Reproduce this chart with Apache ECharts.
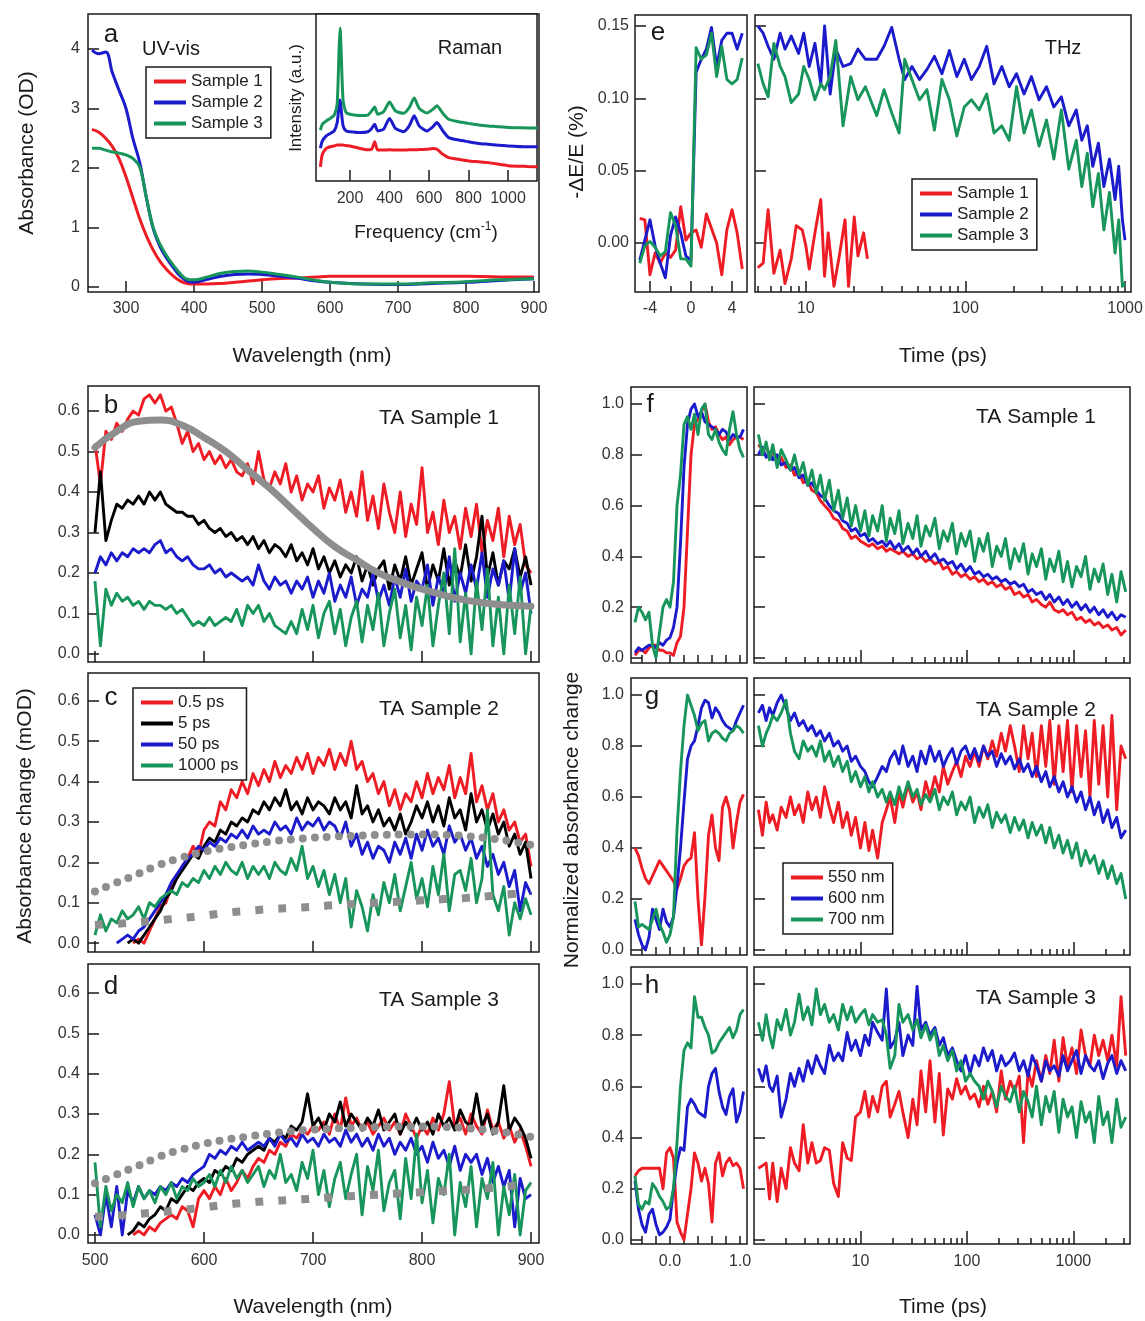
<!DOCTYPE html>
<html>
<head>
<meta charset="utf-8">
<script src="https://cdn.jsdelivr.net/npm/echarts@6/dist/echarts.min.js"></script>
<style>
  html, body { margin: 0; padding: 0; background: #fff; }
  #chart { width: 1145px; height: 1321px; }
</style>
</head>
<body>
<div id="chart"></div>
<script>
// ---- panel a: UV-vis absorbance ----
const uvX = [250, 260, 270, 280, 290, 300, 310, 320, 330, 340, 350, 360, 370, 380, 390, 400, 420, 440, 460, 480, 500, 520, 550, 580, 600, 650, 700, 750, 800, 850, 900];
const uvS1 = [2.65, 2.6, 2.5, 2.36, 2.15, 1.85, 1.5, 1.15, 0.86, 0.62, 0.43, 0.29, 0.18, 0.1, 0.06, 0.05, 0.05, 0.06, 0.08, 0.1, 0.12, 0.14, 0.15, 0.17, 0.18, 0.18, 0.18, 0.18, 0.18, 0.17, 0.17];
const uvS2 = [3.98, 3.92, 3.95, 3.6, 3.3, 3.0, 2.5, 2.1, 1.5, 0.98, 0.68, 0.48, 0.32, 0.18, 0.1, 0.08, 0.13, 0.18, 0.21, 0.22, 0.21, 0.19, 0.15, 0.1, 0.08, 0.05, 0.04, 0.06, 0.08, 0.11, 0.14];
const uvS3 = [2.33, 2.33, 2.3, 2.27, 2.25, 2.22, 2.16, 2.02, 1.5, 1.0, 0.72, 0.52, 0.36, 0.22, 0.13, 0.12, 0.17, 0.23, 0.26, 0.27, 0.25, 0.22, 0.17, 0.11, 0.08, 0.05, 0.05, 0.07, 0.09, 0.12, 0.14];
const uvTicks = [300, 400, 500, 600, 700, 800, 900];
const uvYTicks = [0, 1, 2, 3, 4];

// ---- inset: Raman ----
const ramanX = [50, 60, 80, 100, 120, 135, 145, 150, 155, 165, 180, 200, 250, 290, 310, 325, 340, 370, 400, 430, 470, 500, 525, 550, 590, 620, 640, 670, 700, 750, 800, 850, 900, 1000, 1100, 1150];
const ramanS1 = [0.85, 1.6, 1.95, 2.05, 2.1, 2.15, 2.15, 2.15, 2.15, 2.15, 2.12, 2.1, 1.95, 1.87, 1.9, 2.35, 1.85, 1.85, 1.87, 1.85, 1.85, 1.87, 1.87, 1.88, 1.9, 1.95, 1.9, 1.6, 1.4, 1.3, 1.2, 1.15, 1.1, 0.92, 0.87, 0.85];
const ramanS2 = [1.97, 2.4, 2.7, 2.85, 3.0, 3.5, 4.6, 4.85, 4.3, 3.3, 3.0, 2.95, 2.9, 2.95, 3.15, 3.4, 3.0, 3.1, 3.75, 3.15, 2.95, 3.3, 3.9, 3.3, 3.0, 3.25, 3.5, 3.0, 2.6, 2.45, 2.35, 2.25, 2.2, 2.1, 2.05, 2.05];
const ramanS3 = [3.05, 3.4, 3.6, 3.75, 3.95, 4.6, 8.0, 9.16, 7.8, 4.8, 4.1, 4.0, 3.92, 3.95, 4.2, 4.43, 4.0, 4.15, 4.73, 4.2, 4.05, 4.4, 4.97, 4.35, 4.07, 4.3, 4.5, 4.05, 3.7, 3.55, 3.45, 3.35, 3.3, 3.2, 3.18, 3.17];
const ramanTicks = [200, 400, 600, 800, 1000];

// ---- panel e: THz ----
const thzTLin = [-5, -4.5, -4, -3.5, -3, -2.5, -2, -1.5, -1, -0.5, 0, 0.5, 1, 1.5, 2, 2.5, 3, 3.5, 4, 4.5, 5];
const thzLinS1 = [0.017, 0.016, -0.022, -0.007, -0.014, -0.007, -0.01, -0.005, 0.025, 0.002, 0.007, 0.009, -0.003, 0.02, 0.01, 0.0, -0.022, 0.009, 0.023, 0.007, -0.018];
const thzLinS2 = [-0.012, 0.002, 0.016, -0.002, -0.014, -0.024, 0.005, 0.018, 0.007, -0.009, -0.012, 0.118, 0.127, 0.134, 0.149, 0.122, 0.14, 0.145, 0.145, 0.134, 0.145];
const thzLinS3 = [-0.014, -0.002, 0.001, -0.003, -0.009, -0.006, 0.021, 0.012, -0.011, -0.011, -0.016, 0.135, 0.127, 0.13, 0.145, 0.115, 0.136, 0.113, 0.11, 0.113, 0.128];
const thzT = [5.0, 5.4, 5.8, 6.3, 6.9, 7.4, 8.1, 9.0, 9.7, 10.5,
  11.4, 12.4, 13.1, 14.2, 15.4, 17.1, 19.1, 21.2, 23.6, 27.8,
  30.9, 34.5, 38.4, 41.6, 46.2, 51.5, 57.4, 63.9, 71.2, 79.3,
  88.3, 98.3, 109, 122, 136, 151, 169, 188, 209, 233,
  259, 289, 322, 358, 399, 444, 495, 536, 580, 628,
  681, 737, 799, 866, 913, 963, 1000];
const thzS2 = [0.15, 0.145, 0.136, 0.127, 0.145, 0.134, 0.143, 0.131, 0.145, 0.122,
  0.138, 0.11, 0.15, 0.103, 0.134, 0.122, 0.124, 0.134, 0.127, 0.127,
  0.136, 0.149, 0.127, 0.113, 0.122, 0.113, 0.12, 0.129, 0.117, 0.133,
  0.115, 0.127, 0.113, 0.122, 0.136, 0.11, 0.122, 0.108, 0.117, 0.103,
  0.115, 0.099, 0.108, 0.094, 0.101, 0.081, 0.092, 0.071, 0.081, 0.053,
  0.069, 0.039, 0.058, 0.03, 0.053, 0.016, 0.002];
const thzS3 = [0.124, 0.11, 0.101, 0.138, 0.122, 0.115, 0.097, 0.103, 0.122, 0.113,
  0.099, 0.11, 0.106, 0.115, 0.14, 0.081, 0.115, 0.099, 0.108, 0.088,
  0.106, 0.09, 0.076, 0.127, 0.113, 0.099, 0.106, 0.078, 0.113, 0.099,
  0.074, 0.094, 0.099, 0.092, 0.103, 0.076, 0.081, 0.071, 0.108, 0.076,
  0.092, 0.067, 0.085, 0.058, 0.092, 0.051, 0.071, 0.039, 0.062, 0.025,
  0.048, 0.009, 0.035, -0.007, 0.016, -0.03, -0.028];
const thzTS1 = [5.0, 5.4, 5.8, 6.3, 6.9, 7.4, 8.1, 8.7, 9.5, 10.0, 10.5, 11.4, 12.4, 13.1, 13.8, 15.0, 16.2, 17.6, 18.5, 20.1, 21.2, 23.0, 24.3];
const thzS1 = [-0.017, -0.014, 0.023, -0.021, -0.005, -0.028, -0.011, 0.012, 0.009, -0.002, -0.018, 0.007, 0.03, -0.023, 0.007, -0.03, -0.009, 0.016, -0.03, 0.018, -0.009, 0.007, -0.011];
const thzYTicks = [0, 0.05, 0.1, 0.15];
const thzLinTicks = [-4, 0, 4];
const thzLinMinor = [-2, 2];

// ---- panels b, c, d: TA spectra ----
const wl = [500, 505, 510, 515, 520, 525, 530, 535, 540, 545,
  550, 555, 560, 565, 570, 575, 580, 585, 590, 595,
  600, 605, 610, 615, 620, 625, 630, 635, 640, 645,
  650, 655, 660, 665, 670, 675, 680, 685, 690, 695,
  700, 705, 710, 715, 720, 725, 730, 735, 740, 745,
  750, 755, 760, 765, 770, 775, 780, 785, 790, 795,
  800, 805, 810, 815, 820, 825, 830, 835, 840, 845,
  850, 855, 860, 865, 870, 875, 880, 885, 890, 895,
  900];
const bT05 = [0.52, 0.42, 0.55, 0.53, 0.57, 0.55, 0.58, 0.60, 0.59, 0.63,
  0.64, 0.62, 0.64, 0.60, 0.61, 0.57, 0.52, 0.55, 0.50, 0.52,
  0.48, 0.50, 0.47, 0.49, 0.46, 0.48, 0.45, 0.44, 0.47, 0.42,
  0.50, 0.43, 0.41, 0.45, 0.42, 0.47, 0.40, 0.44, 0.38, 0.42,
  0.40, 0.44, 0.36, 0.41, 0.38, 0.43, 0.35, 0.40, 0.34, 0.45,
  0.33, 0.39, 0.31, 0.42, 0.35, 0.30, 0.40, 0.29, 0.37, 0.32,
  0.46, 0.30, 0.35, 0.27, 0.38, 0.30, 0.34, 0.26, 0.36, 0.29,
  0.37, 0.25, 0.33, 0.28, 0.36, 0.24, 0.34, 0.27, 0.32, 0.22,
  0.20];
const bT5 = [0.30, 0.45, 0.28, 0.33, 0.37, 0.36, 0.38, 0.37, 0.39, 0.37,
  0.40, 0.38, 0.40, 0.37, 0.36, 0.35, 0.35, 0.34, 0.34, 0.32,
  0.33, 0.31, 0.30, 0.31, 0.29, 0.30, 0.28, 0.29, 0.27, 0.29,
  0.26, 0.28, 0.25, 0.27, 0.26, 0.24, 0.27, 0.23, 0.25, 0.22,
  0.26, 0.21, 0.24, 0.20, 0.23, 0.19, 0.22, 0.20, 0.24, 0.18,
  0.22, 0.17, 0.21, 0.23, 0.16, 0.22, 0.18, 0.24, 0.17, 0.21,
  0.25, 0.16, 0.22, 0.18, 0.26, 0.17, 0.23, 0.19, 0.27, 0.18,
  0.24, 0.34, 0.19, 0.25, 0.17, 0.23, 0.21, 0.26, 0.19, 0.24,
  0.17];
const bT50 = [0.20, 0.24, 0.22, 0.25, 0.23, 0.25, 0.24, 0.26, 0.25, 0.26,
  0.25, 0.27, 0.28, 0.25, 0.26, 0.24, 0.23, 0.24, 0.22, 0.21,
  0.21, 0.22, 0.20, 0.21, 0.19, 0.20, 0.19, 0.18, 0.19, 0.17,
  0.22, 0.18, 0.16, 0.19, 0.17, 0.18, 0.15, 0.18, 0.16, 0.19,
  0.14, 0.18, 0.15, 0.20, 0.13, 0.17, 0.14, 0.19, 0.12, 0.16,
  0.14, 0.20, 0.13, 0.17, 0.12, 0.19, 0.14, 0.21, 0.13, 0.18,
  0.16, 0.22, 0.12, 0.19, 0.15, 0.24, 0.13, 0.20, 0.15, 0.22,
  0.16, 0.25, 0.14, 0.21, 0.17, 0.23, 0.13, 0.26, 0.15, 0.20,
  0.10];
const bT1000 = [0.18, 0.02, 0.16, 0.12, 0.15, 0.13, 0.14, 0.12, 0.13, 0.11,
  0.13, 0.12, 0.12, 0.11, 0.12, 0.10, 0.11, 0.09, 0.07, 0.08,
  0.07, 0.09, 0.07, 0.08, 0.09, 0.08, 0.11, 0.07, 0.12, 0.10,
  0.12, 0.08, 0.10, 0.07, 0.06, 0.05, 0.08, 0.05, 0.11, 0.06,
  0.12, 0.04, 0.10, 0.13, 0.05, 0.11, 0.02, 0.09, 0.13, 0.03,
  0.12, 0.06, 0.15, 0.02, 0.10, 0.16, 0.04, 0.12, 0.01, 0.14,
  0.07, 0.17, 0.02, 0.12, 0.20, 0.05, 0.26, 0.03, 0.15, 0.00,
  0.18, 0.06, 0.21, 0.02, 0.14, 0.00, 0.17, 0.05, 0.19, 0.00,
  0.12];
const cT05 = [null, null, null, null, null, null, null, 0.00, 0.01, 0.00,
  0.03, 0.06, 0.09, 0.10, 0.14, 0.16, 0.19, 0.21, 0.24, 0.22,
  0.28, 0.30, 0.29, 0.35, 0.33, 0.38, 0.36, 0.40, 0.37, 0.42,
  0.39, 0.43, 0.40, 0.45, 0.41, 0.44, 0.42, 0.46, 0.43, 0.47,
  0.42, 0.46, 0.44, 0.48, 0.43, 0.47, 0.44, 0.50, 0.43, 0.45,
  0.40, 0.42, 0.37, 0.40, 0.34, 0.38, 0.33, 0.37, 0.35, 0.40,
  0.36, 0.42, 0.37, 0.41, 0.38, 0.44, 0.36, 0.41, 0.37, 0.47,
  0.35, 0.39, 0.33, 0.37, 0.30, 0.33, 0.28, 0.30, 0.25, 0.27,
  0.19];
const cT5 = [null, null, null, null, null, null, 0.00, 0.01, 0.00, 0.02,
  0.04, 0.06, 0.08, 0.11, 0.13, 0.16, 0.18, 0.20, 0.22, 0.21,
  0.24, 0.26, 0.25, 0.28, 0.27, 0.30, 0.29, 0.31, 0.30, 0.33,
  0.32, 0.35, 0.33, 0.36, 0.34, 0.38, 0.33, 0.35, 0.32, 0.36,
  0.33, 0.35, 0.34, 0.32, 0.36, 0.33, 0.35, 0.31, 0.39, 0.32,
  0.34, 0.30, 0.33, 0.29, 0.31, 0.28, 0.32, 0.27, 0.30, 0.34,
  0.31, 0.35, 0.30, 0.34, 0.29, 0.36, 0.31, 0.33, 0.28, 0.37,
  0.30, 0.33, 0.28, 0.32, 0.27, 0.30, 0.24, 0.27, 0.22, 0.25,
  0.16];
const cT50 = [null, null, null, null, 0.00, 0.01, 0.02, 0.01, 0.03, 0.04,
  0.06, 0.08, 0.10, 0.12, 0.15, 0.17, 0.19, 0.21, 0.22, 0.24,
  0.23, 0.25, 0.24, 0.26, 0.25, 0.27, 0.26, 0.28, 0.26, 0.29,
  0.27, 0.28, 0.27, 0.30, 0.28, 0.29, 0.27, 0.31, 0.28, 0.30,
  0.29, 0.31, 0.28, 0.30, 0.29, 0.26, 0.30, 0.24, 0.27, 0.22,
  0.25, 0.21, 0.24, 0.23, 0.20, 0.25, 0.22, 0.26, 0.21, 0.27,
  0.23, 0.28, 0.24, 0.26, 0.22, 0.29, 0.25, 0.27, 0.23, 0.26,
  0.21, 0.24, 0.19, 0.22, 0.17, 0.20, 0.14, 0.18, 0.08, 0.15,
  0.12];
const cT1000 = [0.02, 0.07, 0.03, 0.06, 0.05, 0.08, 0.06, 0.07, 0.09, 0.06,
  0.10, 0.09, 0.11, 0.12, 0.13, 0.12, 0.15, 0.14, 0.16, 0.15,
  0.18, 0.16, 0.19, 0.17, 0.20, 0.18, 0.17, 0.20, 0.16, 0.19,
  0.17, 0.19, 0.16, 0.20, 0.18, 0.17, 0.21, 0.18, 0.24, 0.16,
  0.19, 0.14, 0.18, 0.12, 0.17, 0.10, 0.16, 0.04, 0.13, 0.09,
  0.03, 0.12, 0.07, 0.15, 0.10, 0.17, 0.08, 0.14, 0.20, 0.11,
  0.16, 0.09, 0.19, 0.12, 0.22, 0.08, 0.17, 0.18, 0.13, 0.21,
  0.10, 0.16, 0.33, 0.12, 0.08, 0.14, 0.02, 0.10, 0.06, 0.11,
  0.07];
const dT05 = [null, null, null, null, null, null, null, 0.00, 0.01, 0.00,
  0.02, 0.01, 0.03, 0.04, 0.05, 0.04, 0.07, 0.06, 0.02, 0.09,
  0.11, 0.09, 0.12, 0.10, 0.14, 0.11, 0.13, 0.16, 0.14, 0.17,
  0.19, 0.18, 0.21, 0.20, 0.23, 0.22, 0.25, 0.24, 0.26, 0.25,
  0.27, 0.26, 0.28, 0.25, 0.30, 0.26, 0.34, 0.27, 0.29, 0.26,
  0.28, 0.25, 0.27, 0.29, 0.26, 0.28, 0.25, 0.30, 0.27, 0.24,
  0.27, 0.25, 0.29, 0.26, 0.30, 0.38, 0.27, 0.29, 0.25, 0.30,
  0.27, 0.25, 0.31, 0.26, 0.28, 0.24, 0.27, 0.23, 0.26, 0.22,
  0.17];
const dT5 = [null, null, null, null, null, null, 0.00, 0.01, 0.03, 0.02,
  0.04, 0.05, 0.07, 0.06, 0.09, 0.08, 0.10, 0.12, 0.11, 0.13,
  0.14, 0.13, 0.16, 0.15, 0.17, 0.16, 0.19, 0.18, 0.20, 0.21,
  0.22, 0.21, 0.24, 0.23, 0.25, 0.24, 0.27, 0.26, 0.28, 0.35,
  0.27, 0.29, 0.26, 0.30, 0.28, 0.33, 0.27, 0.30, 0.28, 0.26,
  0.29, 0.27, 0.31, 0.26, 0.28, 0.30, 0.25, 0.28, 0.26, 0.29,
  0.26, 0.28, 0.25, 0.30, 0.27, 0.29, 0.26, 0.31, 0.28, 0.27,
  0.35, 0.27, 0.30, 0.25, 0.28, 0.37, 0.26, 0.29, 0.27, 0.24,
  0.19];
const dT50 = [0.05, 0.00, 0.10, 0.02, 0.12, 0.00, 0.11, 0.08, 0.12, 0.09,
  0.11, 0.10, 0.12, 0.11, 0.13, 0.12, 0.14, 0.13, 0.15, 0.16,
  0.17, 0.20, 0.19, 0.21, 0.20, 0.22, 0.21, 0.23, 0.21, 0.22,
  0.23, 0.22, 0.24, 0.22, 0.25, 0.23, 0.24, 0.22, 0.25, 0.23,
  0.24, 0.22, 0.25, 0.23, 0.24, 0.22, 0.26, 0.23, 0.25, 0.22,
  0.24, 0.21, 0.25, 0.22, 0.24, 0.20, 0.23, 0.21, 0.24, 0.20,
  0.22, 0.18, 0.23, 0.19, 0.21, 0.17, 0.22, 0.16, 0.20, 0.18,
  0.20, 0.15, 0.19, 0.13, 0.17, 0.12, 0.16, 0.02, 0.14, 0.09,
  0.10];
const dT1000 = [0.18, 0.02, 0.12, 0.06, 0.10, 0.08, 0.13, 0.07, 0.12, 0.09,
  0.11, 0.08, 0.12, 0.10, 0.13, 0.09, 0.12, 0.11, 0.14, 0.12,
  0.13, 0.15, 0.12, 0.16, 0.13, 0.17, 0.14, 0.16, 0.13, 0.15,
  0.17, 0.12, 0.16, 0.14, 0.20, 0.13, 0.15, 0.11, 0.18, 0.14,
  0.21, 0.10, 0.16, 0.07, 0.14, 0.18, 0.09, 0.15, 0.20, 0.05,
  0.17, 0.11, 0.21, 0.06, 0.13, 0.16, 0.04, 0.19, 0.09, 0.25,
  0.08, 0.16, 0.03, 0.14, 0.10, 0.20, 0.00, 0.13, 0.07, 0.17,
  0.02, 0.14, 0.09, 0.18, 0.00, 0.12, 0.05, 0.15, 0.00, 0.11,
  0.13];
// model curves (grey)
const fitWl = [500, 520, 540, 560, 580, 600, 620, 640, 660, 680, 700, 720, 740, 760, 780, 800, 820, 840, 860, 880, 900];
const bFit = [0.51, 0.55, 0.575, 0.578, 0.565, 0.535, 0.5, 0.455, 0.41, 0.36, 0.31, 0.265, 0.232, 0.2, 0.178, 0.16, 0.145, 0.133, 0.125, 0.12, 0.118];
const fitDots = [0.128, 0.15, 0.172, 0.195, 0.212, 0.226, 0.236, 0.244, 0.251, 0.257, 0.261, 0.264, 0.266, 0.268, 0.269, 0.269, 0.268, 0.265, 0.26, 0.253, 0.243];
const fitSquares = [0.045, 0.048, 0.052, 0.057, 0.062, 0.068, 0.075, 0.08, 0.084, 0.087, 0.09, 0.094, 0.097, 0.1, 0.103, 0.106, 0.109, 0.112, 0.116, 0.121, 0.126];
const wlTicks = [500, 600, 700, 800, 900];
const taYTicks = [0, 0.1, 0.2, 0.3, 0.4, 0.5, 0.6];

// ---- panels f, g, h: TA kinetics ----
const tLin = [-0.5, -0.45, -0.4, -0.35, -0.3, -0.25, -0.2, -0.15, -0.1, -0.05,
  0, 0.05, 0.1, 0.15, 0.2, 0.25, 0.3, 0.35, 0.4, 0.45,
  0.5, 0.55, 0.6, 0.65, 0.7, 0.75, 0.8, 0.85, 0.9, 0.95,
  1.0, 1.05];
const tLog = [1.1, 1.2, 1.3, 1.4, 1.5, 1.65, 1.8, 2.0, 2.2, 2.4,
  2.65, 2.9, 3.2, 3.5, 3.85, 4.2, 4.6, 5.1, 5.6, 6.2,
  6.8, 7.5, 8.2, 9.0, 10, 11, 12, 13, 14.5, 16,
  17.5, 19, 21, 23, 25, 28, 31, 34, 37, 41,
  45, 50, 55, 60, 66, 73, 80, 88, 97, 107,
  118, 130, 143, 157, 173, 190, 210, 230, 255, 280,
  310, 340, 375, 410, 450, 500, 550, 600, 660, 730,
  800, 880, 970, 1070, 1180, 1300, 1430, 1570, 1730, 1900,
  2100, 2300, 2550, 2800, 3100];
const fLin550 = [0.01, 0.03, 0.03, 0.02, 0.04, 0.05, 0.05, 0.03, 0.03, 0.02,
  0.02, 0.01, 0.06, 0.085, 0.2, 0.5, 0.8, 0.92, 0.94, 0.97,
  1.0, 0.93, 0.9, 0.91, 0.88, 0.86, 0.87, 0.84, 0.86, 0.87,
  0.87, 0.86];
const fLin600 = [0.02, 0.04, 0.03, 0.04, 0.05, 0.05, 0.04, 0.06, 0.05, 0.07,
  0.08, 0.12, 0.2, 0.45, 0.75, 0.92, 0.98, 1.0, 0.95, 0.97,
  0.93, 0.92, 0.91, 0.9, 0.88, 0.9, 0.89, 0.86, 0.88, 0.87,
  0.87, 0.9];
const fLin700 = [0.14, 0.2, 0.18, 0.15, 0.18, 0.05, 0.0, 0.1, 0.2, 0.23,
  0.2, 0.3, 0.6, 0.72, 0.92, 0.95, 0.9, 0.96, 0.88, 0.98,
  1.0, 0.88, 0.86, 0.9, 0.85, 0.82, 0.8, 0.9, 0.97, 0.88,
  0.82, 0.79];
const fLog550 = [0.84, 0.82, 0.83, 0.8, 0.81, 0.78, 0.79, 0.75, 0.76, 0.72,
  0.73, 0.69, 0.7, 0.66, 0.65, 0.62, 0.6, 0.58, 0.55, 0.54,
  0.51, 0.5, 0.47, 0.48, 0.46, 0.45, 0.44, 0.45, 0.43, 0.44,
  0.42, 0.43, 0.42, 0.41, 0.42, 0.4, 0.41, 0.39, 0.4, 0.38,
  0.39, 0.37, 0.38, 0.35, 0.36, 0.33, 0.34, 0.32, 0.33, 0.31,
  0.32, 0.3, 0.31, 0.29, 0.3, 0.28, 0.29, 0.27, 0.28, 0.25,
  0.26, 0.24, 0.25, 0.22, 0.23, 0.21, 0.2, 0.22, 0.19, 0.18,
  0.19, 0.17, 0.18, 0.15, 0.16, 0.14, 0.15, 0.13, 0.14, 0.12,
  0.13, 0.11, 0.12, 0.09, 0.11];
const fLog600 = [0.8, 0.83, 0.79, 0.81, 0.78, 0.8, 0.76, 0.77, 0.74, 0.75,
  0.71, 0.72, 0.68, 0.69, 0.66, 0.64, 0.63, 0.6, 0.58, 0.57,
  0.54, 0.53, 0.5, 0.51, 0.48, 0.49, 0.46, 0.47, 0.45, 0.46,
  0.44, 0.46, 0.43, 0.45, 0.42, 0.44, 0.41, 0.43, 0.4, 0.42,
  0.39, 0.41, 0.38, 0.39, 0.37, 0.38, 0.35, 0.37, 0.34, 0.36,
  0.33, 0.34, 0.32, 0.33, 0.31, 0.32, 0.3, 0.31, 0.29, 0.3,
  0.28, 0.29, 0.26, 0.27, 0.25, 0.26, 0.23, 0.25, 0.22, 0.24,
  0.21, 0.23, 0.2, 0.22, 0.19, 0.21, 0.18, 0.2, 0.17, 0.19,
  0.16, 0.18, 0.15, 0.17, 0.16];
const fLog700 = [0.88, 0.8, 0.85, 0.78, 0.84, 0.75, 0.82, 0.78, 0.74, 0.8,
  0.72, 0.77, 0.68, 0.74, 0.65, 0.72, 0.62, 0.7, 0.58, 0.66,
  0.55, 0.63, 0.52, 0.6, 0.5, 0.58, 0.48, 0.56, 0.5, 0.6,
  0.46, 0.55, 0.49, 0.58, 0.45, 0.53, 0.47, 0.56, 0.44, 0.52,
  0.48, 0.55, 0.43, 0.5, 0.46, 0.53, 0.41, 0.49, 0.44, 0.5,
  0.38, 0.47, 0.42, 0.49, 0.36, 0.44, 0.4, 0.47, 0.35, 0.43,
  0.38, 0.45, 0.33, 0.41, 0.36, 0.43, 0.31, 0.39, 0.34, 0.42,
  0.3, 0.38, 0.28, 0.36, 0.32, 0.4, 0.27, 0.35, 0.3, 0.37,
  0.25, 0.33, 0.22, 0.34, 0.26];
const gLin550 = [0.4, 0.37, 0.32, 0.28, 0.26, 0.29, 0.32, 0.35, 0.33, 0.31,
  0.29, 0.27, 0.24, 0.28, 0.33, 0.35, 0.36, 0.46, 0.2, 0.02,
  0.21, 0.45, 0.53, 0.4, 0.35, 0.56, 0.6, 0.55, 0.4, 0.5,
  0.58, 0.61];
const gLin600 = [0.12, 0.06, 0.02, 0.0, 0.05, 0.16, 0.12, 0.08, 0.16, 0.11,
  0.09, 0.13, 0.25, 0.4, 0.58, 0.75, 0.8, 0.82, 0.88, 0.95,
  0.98, 0.97, 0.91, 0.95, 0.93, 0.9, 0.88, 0.87, 0.86, 0.9,
  0.93, 0.96];
const gLin700 = [0.19, 0.09, 0.1, 0.09, 0.08, 0.12, 0.16, 0.1, 0.07, 0.03,
  0.06, 0.13, 0.47, 0.7, 0.88, 1.0, 0.96, 0.92, 0.86, 0.89,
  0.9, 0.82, 0.85, 0.86, 0.85, 0.83, 0.82, 0.85, 0.86, 0.88,
  0.87, 0.85];
const gLog550 = [0.55, 0.45, 0.58, 0.5, 0.53, 0.47, 0.56, 0.52, 0.6, 0.53,
  0.57, 0.5, 0.62, 0.55, 0.6, 0.52, 0.64, 0.56, 0.5, 0.58,
  0.48, 0.54, 0.45, 0.52, 0.4, 0.5, 0.39, 0.47, 0.36, 0.5,
  0.55, 0.6, 0.5, 0.62, 0.56, 0.65, 0.58, 0.62, 0.55, 0.66,
  0.6, 0.68, 0.62, 0.72, 0.65, 0.7, 0.74, 0.68, 0.76, 0.72,
  0.78, 0.72, 0.8, 0.75, 0.82, 0.76, 0.85, 0.78, 0.88, 0.8,
  0.7, 0.88, 0.75, 0.85, 0.68, 0.88, 0.72, 0.9, 0.65, 0.88,
  0.7, 0.9, 0.62, 0.88, 0.68, 0.86, 0.6, 0.9, 0.65, 0.88,
  0.6, 0.92, 0.55, 0.8, 0.75];
const gLog600 = [0.93, 0.96, 0.9, 0.95, 0.92, 0.97, 1.0, 0.95, 0.9, 0.93,
  0.88, 0.9, 0.86, 0.88, 0.84, 0.86, 0.82, 0.85, 0.8, 0.82,
  0.78, 0.8, 0.74, 0.76, 0.72, 0.7, 0.66, 0.64, 0.68, 0.72,
  0.7, 0.75, 0.78, 0.73, 0.8, 0.72, 0.76, 0.7, 0.78, 0.73,
  0.8, 0.74, 0.78, 0.72, 0.76, 0.79, 0.73, 0.78, 0.8, 0.75,
  0.79, 0.74, 0.8, 0.76, 0.78, 0.72, 0.77, 0.73, 0.76, 0.71,
  0.75, 0.7, 0.73, 0.68, 0.72, 0.66, 0.7, 0.64, 0.68, 0.62,
  0.66, 0.6, 0.64, 0.58, 0.62, 0.55, 0.6, 0.53, 0.58, 0.5,
  0.55, 0.48, 0.52, 0.44, 0.47];
const gLog700 = [0.88, 0.8, 0.85, 0.88, 0.92, 0.9, 0.93, 0.98, 0.85, 0.78,
  0.75, 0.82, 0.78, 0.8, 0.76, 0.82, 0.74, 0.78, 0.72, 0.76,
  0.7, 0.74, 0.66, 0.7, 0.64, 0.68, 0.62, 0.66, 0.6, 0.63,
  0.58, 0.62, 0.57, 0.64, 0.59, 0.66, 0.6, 0.63, 0.57, 0.61,
  0.58, 0.63, 0.55, 0.6, 0.57, 0.62, 0.53, 0.58, 0.55, 0.6,
  0.5, 0.56, 0.52, 0.57, 0.48, 0.54, 0.5, 0.53, 0.46, 0.52,
  0.47, 0.51, 0.44, 0.5, 0.45, 0.49, 0.42, 0.48, 0.4, 0.45,
  0.38, 0.43, 0.36, 0.42, 0.33, 0.39, 0.34, 0.37, 0.3, 0.35,
  0.28, 0.33, 0.26, 0.3, 0.2];
const hLin550 = [0.25, 0.27, 0.28, 0.28, 0.28, 0.28, 0.28, 0.28, 0.2, 0.34,
  0.36, 0.32, 0.07, 0.03, 0.0, 0.1, 0.2, 0.34, 0.3, 0.23,
  0.28, 0.22, 0.07, 0.3, 0.34, 0.25, 0.3, 0.32, 0.29, 0.3,
  0.28, 0.2];
const hLin600 = [0.23, 0.12, 0.06, 0.03, 0.1, 0.12, 0.06, 0.02, 0.03, 0.05,
  0.08, 0.2, 0.3, 0.36, 0.35, 0.52, 0.55, 0.53, 0.5, 0.49,
  0.48, 0.6, 0.65, 0.67, 0.58, 0.52, 0.49, 0.56, 0.59, 0.46,
  0.5, 0.58];
const hLin700 = [0.25, 0.14, 0.12, 0.15, 0.14, 0.22, 0.2, 0.17, 0.15, 0.12,
  0.13, 0.2, 0.38, 0.6, 0.74, 0.77, 0.75, 0.95, 0.87, 0.87,
  0.83, 0.8, 0.73, 0.74, 0.77, 0.79, 0.81, 0.83, 0.79, 0.82,
  0.88, 0.9];
const hLog550 = [0.28, 0.29, 0.3, 0.16, 0.3, 0.15, 0.28, 0.2, 0.36, 0.3,
  0.27, 0.45, 0.3, 0.38, 0.3, 0.31, 0.36, 0.35, 0.22, 0.17,
  0.38, 0.32, 0.31, 0.48, 0.5, 0.58, 0.48, 0.56, 0.5, 0.6,
  0.62, 0.48, 0.53, 0.58, 0.5, 0.4, 0.55, 0.45, 0.66, 0.5,
  0.7, 0.46, 0.65, 0.41, 0.59, 0.55, 0.63, 0.57, 0.6, 0.55,
  0.57, 0.52, 0.6, 0.53, 0.58, 0.5, 0.66, 0.55, 0.62, 0.58,
  0.64, 0.38, 0.66, 0.6, 0.7, 0.62, 0.72, 0.65, 0.78, 0.62,
  0.79, 0.68, 0.75, 0.65, 0.82, 0.72, 0.68, 0.8, 0.72, 0.78,
  0.7, 0.8, 0.68, 0.95, 0.72];
const hLog600 = [0.67, 0.62, 0.68, 0.6, 0.58, 0.64, 0.48, 0.55, 0.65, 0.6,
  0.67, 0.62, 0.7, 0.65, 0.72, 0.68, 0.65, 0.76, 0.7, 0.73,
  0.7, 0.81, 0.74, 0.78, 0.72, 0.8, 0.76, 0.85, 0.81, 0.78,
  0.98, 0.75, 0.78, 0.85, 0.72, 0.8, 0.76, 0.99, 0.82, 0.85,
  0.8, 0.83, 0.76, 0.79, 0.72, 0.75, 0.7, 0.66, 0.72, 0.65,
  0.72, 0.68, 0.75, 0.7, 0.74, 0.66, 0.72, 0.68, 0.7, 0.73,
  0.66, 0.7, 0.64, 0.72, 0.68, 0.62, 0.7, 0.66, 0.68, 0.64,
  0.72, 0.66, 0.7, 0.74, 0.65, 0.72, 0.68, 0.66, 0.7, 0.63,
  0.69, 0.72, 0.65, 0.7, 0.66];
const hLog700 = [0.85, 0.78, 0.88, 0.8, 0.75, 0.86, 0.82, 0.9, 0.8, 0.85,
  0.96, 0.86, 0.91, 0.84, 0.98, 0.88, 0.92, 0.85, 0.88, 0.82,
  0.92, 0.86, 0.91, 0.85, 0.88, 0.9, 0.84, 0.88, 0.85, 0.86,
  0.8, 0.67, 0.72, 0.92, 0.85, 0.88, 0.82, 0.86, 0.79, 0.84,
  0.78, 0.82, 0.72, 0.76, 0.7, 0.74, 0.66, 0.7, 0.62, 0.65,
  0.62, 0.6, 0.55, 0.62, 0.58, 0.52, 0.6, 0.56, 0.54, 0.6,
  0.5, 0.58, 0.54, 0.48, 0.6, 0.45, 0.56, 0.5, 0.58, 0.42,
  0.55, 0.48, 0.52, 0.4, 0.54, 0.46, 0.5, 0.38, 0.56, 0.45,
  0.5, 0.38, 0.55, 0.44, 0.48];
const kinYTicks = [0, 0.2, 0.4, 0.6, 0.8, 1.0];
const kinLinTicks = [-0.4, -0.2, 0, 0.2, 0.4, 0.6, 0.8, 1.0];
const kinLinLabels = [0, 1];
const logMajor = [10, 100, 1000];
const logMinor = [2, 3, 4, 5, 6, 7, 8, 9, 20, 30, 40, 50, 60, 70, 80, 90, 200, 300, 400, 500, 600, 700, 800, 900, 2000, 3000];

// ---- styling ----
const FONT = '"Liberation Sans", Arial, Helvetica, sans-serif';
const INK = '#1a1a1a';
const RED = '#ee1c24';
const BLACK = '#000000';
const BLUE = '#1b1bcc';
const GREEN = '#17955b';
const GRAY = '#8e8e8e';

function pairs(xs, ys) {
  return xs.map((x, i) => [x, ys[i]]);
}

const grids = [
  { left: 88, top: 14, width: 451, height: 278 },   // 0 a
  { left: 316, top: 14, width: 221, height: 167 },  // 1 raman inset
  { left: 635, top: 15, width: 112, height: 277 },  // 2 e, linear part
  { left: 755, top: 15, width: 376, height: 277 },  // 3 e, log part
  { left: 88, top: 386, width: 451, height: 276 },  // 4 b
  { left: 88, top: 673, width: 451, height: 279 },  // 5 c
  { left: 88, top: 964, width: 451, height: 279 },  // 6 d
  { left: 631, top: 387, width: 116, height: 276 }, // 7 f lin
  { left: 754, top: 387, width: 376, height: 276 }, // 8 f log
  { left: 631, top: 678, width: 116, height: 277 }, // 9 g lin
  { left: 754, top: 678, width: 376, height: 277 }, // 10 g log
  { left: 631, top: 967, width: 116, height: 277 }, // 11 h lin
  { left: 754, top: 967, width: 376, height: 277 }  // 12 h log
].map(g => Object.assign({ show: true, borderColor: INK, borderWidth: 1.5, backgroundColor: '#fff', outerBoundsMode: 'none' }, g));

function axis(grid, type, min, max, o) {
  o = o || {};
  const inRange = v => v >= min && v <= max;
  return {
    type: type,
    gridIndex: grid,
    min: min,
    max: max,
    position: o.position,
    axisLine: { show: false, onZero: false },
    axisTick: o.ticks
      ? { show: true, inside: true, length: o.tickLen || 11, customValues: o.ticks.filter(inRange), lineStyle: { color: INK, width: 1.5 } }
      : { show: false },
    axisLabel: o.labels
      ? { show: true, customValues: o.labels.filter(inRange), formatter: o.fmt, margin: o.margin || 8, color: '#333', fontSize: 16, fontFamily: FONT }
      : { show: false },
    splitLine: { show: false },
    minorTick: { show: false }
  };
}

const fmtInt = v => String(Math.round(v));
const fmt1 = v => v.toFixed(1);
const fmt2 = v => v.toFixed(2);

const xAxes = [
  axis(0, 'value', 244.1, 907.4, { position: 'bottom', ticks: uvTicks, labels: uvTicks, fmt: fmtInt, margin: 9 }),
  axis(1, 'value', 27.8, 1146.8, { position: 'bottom', ticks: ramanTicks, labels: ramanTicks, fmt: fmtInt, margin: 10 }),
  axis(2, 'value', -5.46, 5.46, { position: 'bottom', ticks: thzLinTicks, labels: thzLinTicks, fmt: fmtInt, margin: 9 }),
  axis(3, 'log', 4.8, 1090, { position: 'bottom', ticks: logMajor, labels: logMajor, fmt: fmtInt, margin: 9 }),
  axis(4, 'value', 493.6, 907.3, { position: 'bottom', ticks: wlTicks }),
  axis(5, 'value', 493.6, 907.3, { position: 'bottom', ticks: wlTicks }),
  axis(6, 'value', 493.6, 907.3, { position: 'bottom', ticks: wlTicks, labels: wlTicks, fmt: fmtInt, margin: 10 }),
  axis(7, 'value', -0.557, 1.1, { position: 'bottom', ticks: kinLinTicks, tickLen: 8 }),
  axis(8, 'log', 1.0, 3400, { position: 'bottom', ticks: logMajor, tickLen: 13 }),
  axis(9, 'value', -0.557, 1.1, { position: 'bottom', ticks: kinLinTicks, tickLen: 8 }),
  axis(10, 'log', 1.0, 3400, { position: 'bottom', ticks: logMajor, tickLen: 13 }),
  axis(11, 'value', -0.557, 1.1, { position: 'bottom', ticks: kinLinTicks, tickLen: 8, labels: kinLinLabels, fmt: fmt1, margin: 10 }),
  axis(12, 'log', 1.0, 3400, { position: 'bottom', ticks: logMajor, tickLen: 13, labels: logMajor, fmt: fmtInt, margin: 10 }),
  // minor tick rows
  axis(3, 'log', 4.8, 1090, { position: 'bottom', ticks: logMinor, tickLen: 6 }),
  axis(8, 'log', 1.0, 3400, { position: 'bottom', ticks: logMinor, tickLen: 6 }),
  axis(10, 'log', 1.0, 3400, { position: 'bottom', ticks: logMinor, tickLen: 6 }),
  axis(12, 'log', 1.0, 3400, { position: 'bottom', ticks: logMinor, tickLen: 6 }),
  axis(2, 'value', -5.46, 5.46, { position: 'bottom', ticks: thzLinMinor, tickLen: 6 })
];

const yAxes = [
  axis(0, 'value', -0.084, 4.588, { position: 'left', ticks: uvYTicks, labels: uvYTicks, fmt: fmtInt }),
  axis(1, 'value', 0, 10, { position: 'left' }),
  axis(2, 'value', -0.0339, 0.1576, { position: 'left', ticks: thzYTicks, labels: thzYTicks, fmt: fmt2, margin: 6 }),
  axis(3, 'value', -0.0339, 0.1576, { position: 'left', ticks: thzYTicks }),
  axis(4, 'value', -0.02, 0.662, { position: 'left', ticks: taYTicks, labels: taYTicks, fmt: fmt1 }),
  axis(5, 'value', -0.022, 0.669, { position: 'left', ticks: taYTicks, labels: taYTicks, fmt: fmt1 }),
  axis(6, 'value', -0.02, 0.672, { position: 'left', ticks: taYTicks, labels: taYTicks, fmt: fmt1 }),
  axis(7, 'value', -0.02, 1.067, { position: 'left', ticks: kinYTicks, labels: kinYTicks, fmt: fmt1, margin: 7 }),
  axis(8, 'value', -0.02, 1.067, { position: 'left', ticks: kinYTicks }),
  axis(9, 'value', -0.02, 1.067, { position: 'left', ticks: kinYTicks, labels: kinYTicks, fmt: fmt1, margin: 7 }),
  axis(10, 'value', -0.02, 1.067, { position: 'left', ticks: kinYTicks }),
  axis(11, 'value', -0.016, 1.066, { position: 'left', ticks: kinYTicks, labels: kinYTicks, fmt: fmt1, margin: 7 }),
  axis(12, 'value', -0.016, 1.066, { position: 'left', ticks: kinYTicks })
];

function line(name, grid, xs, ys, color, extra) {
  return Object.assign({
    type: 'line',
    name: name,
    xAxisIndex: grid,
    yAxisIndex: grid,
    data: pairs(xs, ys),
    showSymbol: false,
    symbol: 'none',
    lineStyle: { color: color, width: 2.9, join: 'round' },
    itemStyle: { color: color },
    silent: true,
    animation: false
  }, extra || {});
}

function fit(grid, ys, style) {
  return line('fit', grid, fitWl, ys, GRAY, { smooth: true, lineStyle: Object.assign({ color: GRAY }, style), z: 5 });
}

const dots = { width: 8, type: [0, 12], cap: 'round' };
const squares = { width: 8, type: [8, 15], cap: 'butt' };

const series = [
  // a
  line('Sample 1', 0, uvX, uvS1, RED, { smooth: 0.4, lineStyle: { color: RED, width: 3 } }),
  line('Sample 2', 0, uvX, uvS2, BLUE, { smooth: 0.4, lineStyle: { color: BLUE, width: 3 } }),
  line('Sample 3', 0, uvX, uvS3, GREEN, { smooth: 0.4, lineStyle: { color: GREEN, width: 3 } }),
  line('Sample 1', 1, ramanX, ramanS1, RED, { smooth: 0.2, lineStyle: { color: RED, width: 3 } }),
  line('Sample 2', 1, ramanX, ramanS2, BLUE, { smooth: 0.2, lineStyle: { color: BLUE, width: 3 } }),
  line('Sample 3', 1, ramanX, ramanS3, GREEN, { smooth: 0.2, lineStyle: { color: GREEN, width: 3 } }),
  // e
  line('Sample 1', 2, thzTLin, thzLinS1, RED),
  line('Sample 2', 2, thzTLin, thzLinS2, BLUE),
  line('Sample 3', 2, thzTLin, thzLinS3, GREEN),
  line('Sample 1', 3, thzTS1, thzS1, RED),
  line('Sample 2', 3, thzT, thzS2, BLUE),
  line('Sample 3', 3, thzT, thzS3, GREEN),
  // b
  line('0.5 ps', 4, wl, bT05, RED),
  line('5 ps', 4, wl, bT5, BLACK),
  line('50 ps', 4, wl, bT50, BLUE),
  line('1000 ps', 4, wl, bT1000, GREEN),
  fit(4, bFit, { width: 7, cap: 'round' }),
  // c
  line('0.5 ps', 5, wl, cT05, RED),
  line('5 ps', 5, wl, cT5, BLACK),
  line('50 ps', 5, wl, cT50, BLUE),
  line('1000 ps', 5, wl, cT1000, GREEN),
  fit(5, fitDots, dots),
  fit(5, fitSquares, squares),
  // d
  line('0.5 ps', 6, wl, dT05, RED),
  line('5 ps', 6, wl, dT5, BLACK),
  line('50 ps', 6, wl, dT50, BLUE),
  line('1000 ps', 6, wl, dT1000, GREEN),
  fit(6, fitDots, dots),
  fit(6, fitSquares, squares),
  // f
  line('550 nm', 7, tLin, fLin550, RED),
  line('600 nm', 7, tLin, fLin600, BLUE),
  line('700 nm', 7, tLin, fLin700, GREEN),
  line('550 nm', 8, tLog, fLog550, RED),
  line('600 nm', 8, tLog, fLog600, BLUE),
  line('700 nm', 8, tLog, fLog700, GREEN),
  // g
  line('550 nm', 9, tLin, gLin550, RED),
  line('600 nm', 9, tLin, gLin600, BLUE),
  line('700 nm', 9, tLin, gLin700, GREEN),
  line('550 nm', 10, tLog, gLog550, RED),
  line('600 nm', 10, tLog, gLog600, BLUE),
  line('700 nm', 10, tLog, gLog700, GREEN),
  // h
  line('550 nm', 11, tLin, hLin550, RED),
  line('600 nm', 11, tLin, hLin600, BLUE),
  line('700 nm', 11, tLin, hLin700, GREEN),
  line('550 nm', 12, tLog, hLog550, RED),
  line('600 nm', 12, tLog, hLog600, BLUE),
  line('700 nm', 12, tLog, hLog700, GREEN)
];

function legend(left, top, names) {
  return {
    left: left, top: top, orient: 'vertical', data: names, selectedMode: false,
    icon: 'rect', itemWidth: 32, itemHeight: 4, itemGap: 4,
    padding: [6, 8, 6, 8], borderColor: INK, borderWidth: 1.5, backgroundColor: '#fff',
    textStyle: { fontSize: 17, fontFamily: FONT, color: '#222' }
  };
}

function txt(x, y, s, size, rotate) {
  return {
    type: 'text', x: x, y: y, rotation: rotate ? Math.PI / 2 : 0, z: 100, silent: true,
    style: { text: s, fontSize: size, fontFamily: FONT, fill: INK, align: 'center', verticalAlign: 'middle' }
  };
}

const texts = [
  txt(111, 35, 'a', 26), txt(171, 49, 'UV-vis', 20), txt(470, 48, 'Raman', 20),
  txt(296, 98, 'Intensity (a.u.)', 17, true),
  {
    type: 'text', x: 426, y: 233, z: 100, silent: true,
    style: {
      text: '{n|Frequency (cm}{s|-1}{n|)}', align: 'center', verticalAlign: 'middle',
      rich: { n: { fontSize: 19, fontFamily: FONT, fill: INK }, s: { fontSize: 12, fontFamily: FONT, fill: INK, padding: [0, 0, 12, 0] } }
    }
  },
  txt(27, 153, 'Absorbance (OD)', 21, true), txt(312, 356, 'Wavelength (nm)', 21),
  txt(658, 33, 'e', 26), txt(1063, 48, 'THz', 20),
  txt(577, 152, '-ΔE/E (%)', 21, true), txt(943, 356, 'Time (ps)', 21),
  txt(111, 406, 'b', 26), txt(111, 698, 'c', 26), txt(111, 987, 'd', 26),
  txt(439, 418, 'TA Sample 1', 21), txt(439, 709, 'TA Sample 2', 21), txt(439, 1000, 'TA Sample 3', 21),
  txt(25, 816, 'Absorbance change (mOD)', 21, true), txt(313, 1307, 'Wavelength (nm)', 21),
  txt(650, 405, 'f', 26), txt(652, 697, 'g', 26), txt(652, 986, 'h', 26),
  txt(1036, 417, 'TA Sample 1', 21), txt(1036, 710, 'TA Sample 2', 21), txt(1036, 998, 'TA Sample 3', 21),
  txt(572, 820, 'Normalized absorbance change', 21, true), txt(943, 1307, 'Time (ps)', 21)
];

const chart = echarts.init(document.getElementById('chart'), null, { renderer: 'canvas' });
chart.setOption({
  backgroundColor: '#fff',
  animation: false,
  grid: grids,
  xAxis: xAxes,
  yAxis: yAxes,
  legend: [
    legend(146, 67, ['Sample 1', 'Sample 2', 'Sample 3']),
    legend(912, 179, ['Sample 1', 'Sample 2', 'Sample 3']),
    legend(133, 688, ['0.5 ps', '5 ps', '50 ps', '1000 ps']),
    legend(783, 863, ['550 nm', '600 nm', '700 nm'])
  ],
  series: series,
  graphic: texts
});
</script>
</body>
</html>
